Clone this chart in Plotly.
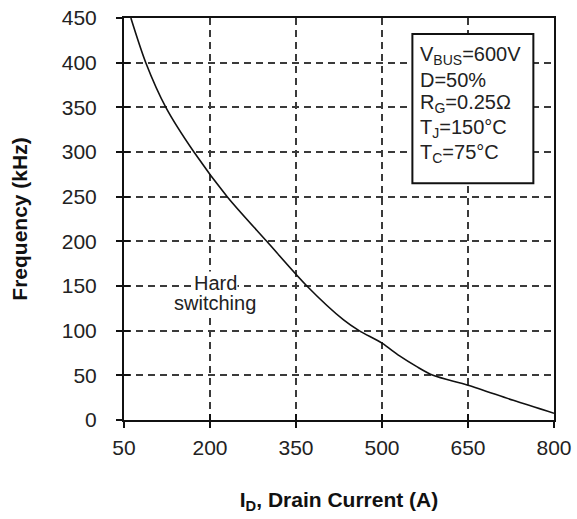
import plotly.graph_objects as go

# Maximum switching frequency vs. drain current (hard switching)
drain_current = [62, 88, 123, 172, 230, 299, 369, 433, 460, 500, 530, 560, 589, 650, 729, 800]
frequency_khz = [450, 400, 350, 300, 250, 200, 150, 112, 100, 86, 72, 60, 50, 39, 22, 7.5]

x_ticks = [50, 200, 350, 500, 650, 800]
y_ticks = [0, 50, 100, 150, 200, 250, 300, 350, 400, 450]

conditions = [
    "V<sub>BUS</sub>=600V",
    "D=50%",
    "R<sub>G</sub>=0.25Ω",
    "T<sub>J</sub>=150°C",
    "T<sub>C</sub>=75°C",
]
condition_y = [408, 381, 354, 326, 298]

FONT = "Liberation Sans, Arial, sans-serif"
X_RANGE = [50, 800]
Y_RANGE = [0, 450]

fig = go.Figure()
fig.add_trace(go.Scatter(
    x=drain_current, y=frequency_khz, mode="lines",
    line=dict(color="#111111", width=1.6, shape="spline", smoothing=0.8),
    showlegend=False, hoverinfo="skip",
))
# empty trace that carries the overlay axes (inner half of the tick marks)
fig.add_trace(go.Scatter(x=[None], y=[None], xaxis="x2", yaxis="y2",
                         showlegend=False, hoverinfo="skip"))

axis_common = dict(
    showline=True, linecolor="#111111", linewidth=2, mirror=True,
    ticks="outside", ticklen=6, tickwidth=2, tickcolor="#111111",
    showgrid=True, gridcolor="#3a3a3a", gridwidth=2, griddash="7px,5px",
    zeroline=False, automargin=False,
    tickfont=dict(family=FONT, size=21, color="#222222"),
)

fig.update_layout(
    xaxis=dict(
        range=X_RANGE, tickvals=x_ticks, ticklabelstandoff=2,
        title=dict(text="I<sub>D</sub>, Drain Current (A)",
                   font=dict(family=FONT, size=21, color="#111111", weight="bold"),
                   standoff=34),
        **axis_common,
    ),
    yaxis=dict(
        range=Y_RANGE, tickvals=y_ticks, ticklabelstandoff=15,
        title=dict(text="Frequency (kHz)",
                   font=dict(family=FONT, size=21, color="#111111", weight="bold"),
                   standoff=28),
        **axis_common,
    ),
    xaxis2=dict(overlaying="x", range=X_RANGE, tickvals=x_ticks, side="bottom",
                ticks="inside", ticklen=6, tickwidth=2, tickcolor="#111111",
                showticklabels=False, showgrid=False, zeroline=False, showline=False),
    yaxis2=dict(overlaying="y", range=Y_RANGE, tickvals=y_ticks, side="left",
                ticks="inside", ticklen=6, tickwidth=2, tickcolor="#111111",
                showticklabels=False, showgrid=False, zeroline=False, showline=False),
)

# Test-condition box
fig.add_shape(type="rect", x0=553, x1=764, y0=265, y1=432,
              xref="x", yref="y", fillcolor="white",
              line=dict(color="#111111", width=2), layer="above")
for txt, yy in zip(conditions, condition_y):
    fig.add_annotation(
        x=562, y=yy, xref="x", yref="y", xanchor="left", yanchor="middle",
        text=txt, align="left", showarrow=False,
        font=dict(family=FONT, size=20, color="#222222"),
    )

for txt, yy in zip(["Hard", "switching"], [153, 131]):
    fig.add_annotation(
        x=209, y=yy, xref="x", yref="y", text=txt,
        showarrow=False, align="center", bgcolor="white", borderpad=0,
        font=dict(family=FONT, size=20, color="#222222"),
    )

fig.update_layout(
    width=577, height=519,
    margin=dict(l=124, r=23, t=18, b=99),
    paper_bgcolor="white", plot_bgcolor="white",
)

fig.write_html("out.html")
